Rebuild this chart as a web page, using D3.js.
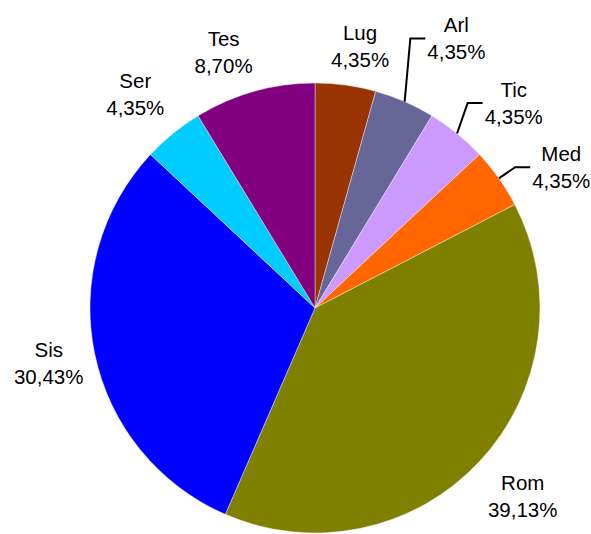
<!DOCTYPE html>
<html>
<head>
<meta charset="utf-8">
<script src="https://cdn.jsdelivr.net/npm/d3@7"></script>
<style>
  body { margin: 0; background: #fff; }
  text { font-family: "Liberation Sans", Arial, sans-serif; }
</style>
</head>
<body>
<div id="okvir"></div>
<script>
// data
const kategorije = ["Lug", "Arl", "Tic", "Med", "Rom", "Sis", "Ser", "Tes"];
const postotci = [4.35, 4.35, 4.35, 4.35, 39.13, 30.43, 4.35, 8.70];
const boje = ["#993300", "#666699", "#CC99FF", "#FF6600", "#808000", "#0000FF", "#00CCFF", "#800080"];

function crtajPitu() {
  const dim = {
    sirina: 591,
    visina: 534,
    cx: 315,
    cy: 308,
    r: 225,
    rLabel: 272,
  };

  // labels Excel moved away from the centroid, and which ones get a leader line
  const pomak = {
    Lug: [8, 8], Arl: [33, -20], Tic: [27, 6], Med: [24, 16],
    Rom: [9, 2], Sis: [0, 0], Ser: [-8, -3], Tes: [-18, 6],
  };
  const sLinijom = ["Arl", "Tic", "Med"];

  const podaci = kategorije.map((k, i) => ({ ime: k, vrijednost: postotci[i], boja: boje[i] }));

  const svg = d3.select("#okvir")
    .append("svg")
    .attr("width", dim.sirina)
    .attr("height", dim.visina);

  const g = svg.append("g")
    .attr("transform", `translate(${dim.cx},${dim.cy})`);

  const pita = d3.pie().sort(null).value(d => d.vrijednost);
  const luk = d3.arc().innerRadius(0).outerRadius(dim.r);
  const lukLabel = d3.arc().innerRadius(dim.rLabel).outerRadius(dim.rLabel);
  const lukRub = d3.arc().innerRadius(dim.r).outerRadius(dim.r);

  const isjecci = pita(podaci);

  g.selectAll("path.isjecak")
    .data(isjecci)
    .enter()
    .append("path")
    .attr("class", "isjecak")
    .attr("d", luk)
    .attr("fill", d => d.data.boja)
    .attr("stroke", "#ffffff")
    .attr("stroke-width", 0.4);

  const fmt = v => v.toFixed(2).replace(".", ",") + "%";

  const labele = g.selectAll("g.labela")
    .data(isjecci)
    .enter()
    .append("g")
    .attr("class", "labela")
    .attr("transform", d => {
      const c = lukLabel.centroid(d);
      const p = pomak[d.data.ime];
      return `translate(${c[0] + p[0]},${c[1] + p[1]})`;
    });

  labele.append("text")
    .attr("text-anchor", "middle")
    .attr("y", -13.5)
    .attr("dy", "0.36em")
    .style("font-size", "20.5px")
    .attr("fill", "#000")
    .text(d => d.data.ime);

  labele.append("text")
    .attr("text-anchor", "middle")
    .attr("y", 13.5)
    .attr("dy", "0.36em")
    .style("font-size", "20.5px")
    .attr("fill", "#000")
    .text(d => fmt(d.data.vrijednost));

  // leader lines: from the pie edge to the left side of the label
  labele.filter(d => sLinijom.includes(d.data.ime))
    .each(function(d) {
      const c = lukLabel.centroid(d);
      const p = pomak[d.data.ime];
      const bb = this.getBBox();
      const lijevo = c[0] + p[0] + bb.x;
      const sredina = c[1] + p[1];
      const start = lukRub.centroid(d);
      g.append("polyline")
        .attr("points", [start, [lijevo - 17, sredina], [lijevo - 2, sredina]].map(t => t.join(",")).join(" "))
        .attr("fill", "none")
        .attr("stroke", "#000")
        .attr("stroke-width", 2);
    });
}
crtajPitu();
</script>
</body>
</html>
